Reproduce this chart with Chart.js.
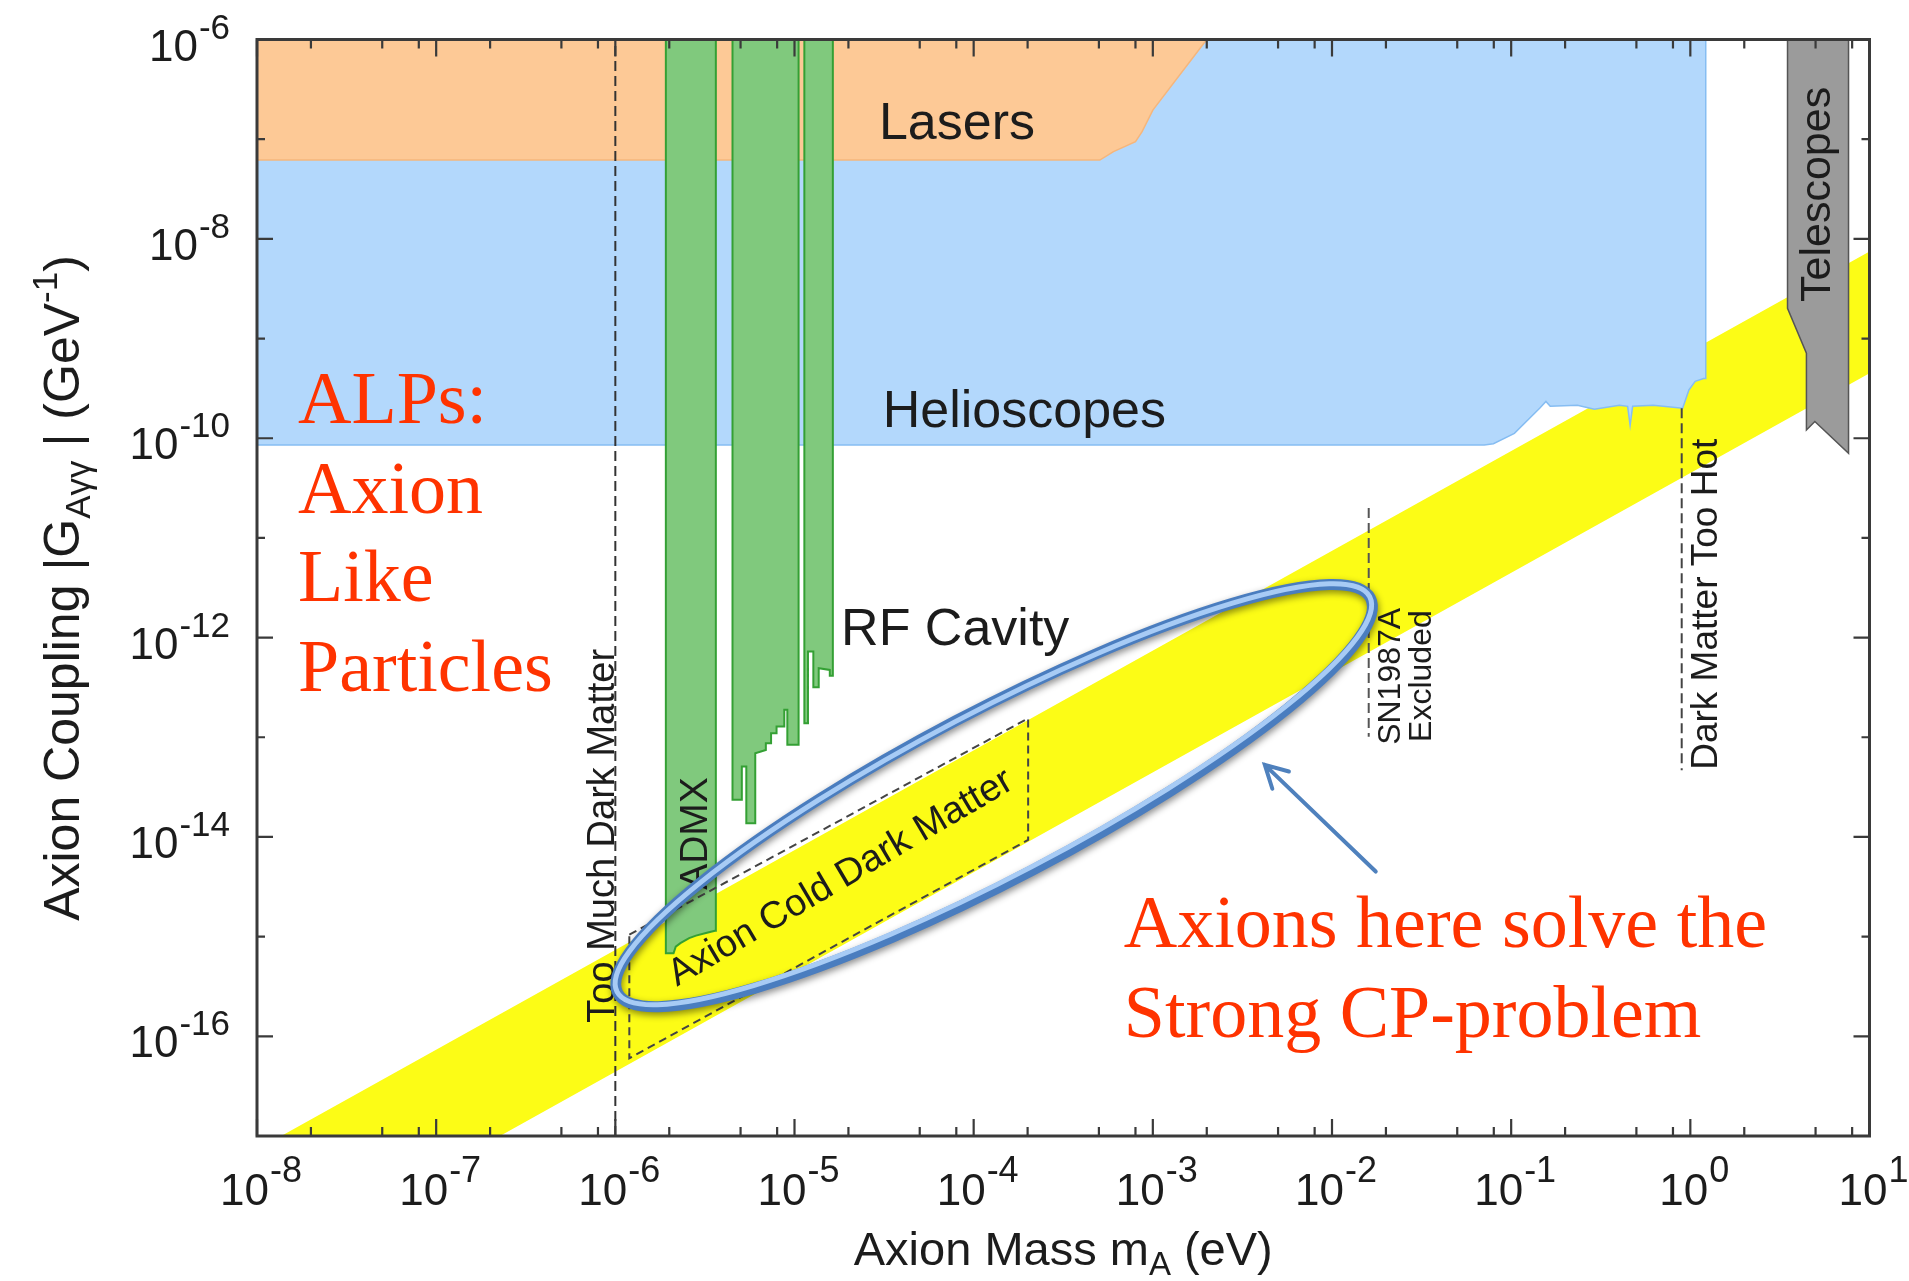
<!DOCTYPE html>
<html>
<head>
<meta charset="utf-8">
<script src="https://cdn.jsdelivr.net/npm/chart.js"></script>
<style>
html,body{margin:0;padding:0;background:#ffffff;overflow:hidden;}
#wrap{position:relative;width:1909px;height:1281px;}
canvas{display:block;}
</style>
</head>
<body>
<div id="wrap"><canvas id="chart" width="1909" height="1281"></canvas></div>
<script>
// ---------------- axes / ticks ----------------
const massMin = 1e-8, massMax = 10;
const couplingMin = 1e-17, couplingMax = 1e-6;
const massTickValues = [1e-8, 1e-7, 1e-6, 1e-5, 1e-4, 1e-3, 1e-2, 1e-1, 1, 10];
const massTickExponents = ['-8', '-7', '-6', '-5', '-4', '-3', '-2', '-1', '0', '1'];
const massMinorMultipliers = [2, 5, 8];
const couplingTickValues = [1e-6, 1e-8, 1e-10, 1e-12, 1e-14, 1e-16];
const couplingTickExponents = ['-6', '-8', '-10', '-12', '-14', '-16'];
const couplingMinorValues = [1e-7, 1e-9, 1e-11, 1e-13, 1e-15];

// ---------------- excluded regions (mass in eV, coupling in GeV^-1) ----------------
const helioscopesMass = [1e-8, 1e-8, 0.0708, 0.0796, 0.1042, 0.1442, 0.1563, 0.1652, 0.2344, 0.2911, 0.4018, 0.4467, 0.4613, 0.4764, 0.6209, 0.9057, 0.9817, 1.064, 1.186, 1.219, 1.219];
const helioscopesCoupling = [1e-6, 8.57e-11, 8.57e-11, 8.8e-11, 1.12e-10, 2.0e-10, 2.34e-10, 2.09e-10, 2.14e-10, 1.95e-10, 2.14e-10, 2.09e-10, 1.35e-10, 2.09e-10, 2.14e-10, 2.0e-10, 3.05e-10, 3.72e-10, 3.98e-10, 3.98e-10, 1e-6];

const lasersMass = [1e-8, 1e-8, 5.06e-4, 6.03e-4, 8.0e-4, 8.71e-4, 1.0e-3, 2.0e-3];
const lasersCoupling = [1e-6, 6.18e-8, 6.18e-8, 7.5e-8, 9.44e-8, 1.19e-7, 1.96e-7, 1e-6];

const admxMass = [1.914e-6, 1.914e-6, 2.113e-6, 2.173e-6, 2.307e-6, 2.582e-6, 2.818e-6, 3.243e-6, 3.597e-6, 3.639e-6, 3.639e-6];
const admxCoupling = [1e-6, 6.82e-16, 6.82e-16, 7.94e-16, 8.61e-16, 9.66e-16, 1.023e-15, 1.096e-15, 1.148e-15, 1.148e-15, 1e-6];

const cavity2Mass = [4.508e-6, 4.508e-6, 5.082e-6, 5.082e-6, 5.383e-6, 5.383e-6, 6.039e-6, 6.039e-6, 6.92e-6, 6.92e-6, 7.4e-6, 7.4e-6, 7.94e-6, 7.94e-6, 8.77e-6, 8.77e-6, 9.12e-6, 9.12e-6, 1.054e-5, 1.054e-5];
const cavity2Coupling = [1e-6, 2.355e-14, 2.355e-14, 5.08e-14, 5.08e-14, 1.374e-14, 1.374e-14, 6.92e-14, 7.46e-14, 8.7e-14, 8.7e-14, 1.096e-13, 1.096e-13, 1.28e-13, 1.28e-13, 1.884e-13, 1.884e-13, 8.39e-14, 8.39e-14, 1e-6];

const cavity3Mass = [1.135e-5, 1.135e-5, 1.189e-5, 1.189e-5, 1.274e-5, 1.274e-5, 1.365e-5, 1.365e-5, 1.574e-5, 1.574e-5, 1.637e-5, 1.637e-5];
const cavity3Coupling = [1e-6, 1.384e-13, 1.384e-13, 7.24e-13, 7.24e-13, 3.18e-13, 3.18e-13, 4.93e-13, 4.74e-13, 4.13e-13, 4.13e-13, 1e-6];

const telescopesMass = [3.487, 3.487, 4.446, 4.446, 4.955, 7.638, 7.638];
const telescopesCoupling = [1e-6, 2.01e-9, 7.13e-10, 1.21e-10, 1.47e-10, 7.08e-11, 1e-6];

// QCD axion band (upper edge then lower edge)
const axionBandMass = [1.365e-8, 10, 10, 2.27e-7];
const axionBandCoupling = [1e-17, 7.45e-9, 4.49e-10, 1e-17];

// Axion cold dark matter window (dashed box)
const cdmBoxMass = [1.197e-6, 2.014e-4, 2.014e-4, 1.197e-6, 1.197e-6];
const cdmBoxCoupling = [1.047e-15, 1.549e-13, 9.33e-15, 6.03e-17, 1.047e-15];

// dashed limit lines
const tooMuchDMMass = [1e-6, 1e-6];
const tooMuchDMCoupling = [1e-17, 1e-6];
const sn1987aMass = [0.01603, 0.01603];
const sn1987aCoupling = [2.0e-11, 1.01e-13];
const dmTooHotMass = [0.895, 0.895];
const dmTooHotCoupling = [2.0e-10, 4.68e-14];

// ---------------- annotations ----------------
const sansLabels = [
  {text: 'Lasers', x: 2.96e-5, y: 1.0e-7, size: 52, rot: 0},
  {text: 'Helioscopes', x: 3.11e-5, y: 1.30e-10, size: 52, rot: 0},
  {text: 'RF Cavity', x: 1.82e-5, y: 8.45e-13, size: 52, rot: 0},
  {text: 'Telescopes', x: 6.0, y: 2.33e-9, size: 43, rot: -90},
  {text: 'ADMX', x: 3.24e-6, y: 2.95e-15, size: 39, rot: -90},
  {text: 'Too Much Dark Matter', x: 9.82e-7, y: 1.37e-16, size: 38, rot: -90},
  {text: 'SN1987A', x: 0.0239, y: 8.39e-14, size: 32, rot: -90},
  {text: 'Excluded', x: 0.0356, y: 8.99e-14, size: 32, rot: -90},
  {text: 'Dark Matter Too Hot', x: 1.40, y: 4.72e-14, size: 37, rot: -90},
  {text: 'Axion Cold Dark Matter', x: 2.21e-6, y: 3.14e-16, size: 38, rot: -30.5}
];
const redLines = [
  {text: 'ALPs:', x: 1.694e-8, y: 1.422e-10},
  {text: 'Axion', x: 1.694e-8, y: 1.782e-11},
  {text: 'Like', x: 1.694e-8, y: 2.333e-12},
  {text: 'Particles', x: 1.694e-8, y: 2.917e-13},
  {text: 'Axions here solve the', x: 6.887e-4, y: 7.91e-16},
  {text: 'Strong CP-problem', x: 6.887e-4, y: 9.89e-17}
];
const ellipseCenter = {x: 1.30e-4, y: 2.60e-14};
const arrowTail = {x: 0.01754, y: 4.5e-15};
const arrowTip = {x: 4.217e-3, y: 5.28e-14};

const SANS = '"Liberation Sans", Arial, Helvetica, sans-serif';
const SERIF = '"Liberation Serif", "Times New Roman", Times, serif';
const INK = '#1c1c1c';

function pts(xs, ys) { return xs.map((v, i) => ({x: v, y: ys[i]})); }

function region(label, xs, ys, fillColor, lineColor, lineWidth, order) {
  return {label, data: pts(xs, ys), fill: 'shape', backgroundColor: fillColor,
    borderColor: lineColor, borderWidth: lineWidth, pointRadius: 0, pointHoverRadius: 0,
    tension: 0, order};
}
function dashed(label, xs, ys, dash, width, color, order) {
  return {label, data: pts(xs, ys), fill: false, borderColor: color, borderWidth: width,
    borderDash: dash, pointRadius: 0, pointHoverRadius: 0, tension: 0, order};
}

const datasets = [
  region('QCD axion band', axionBandMass, axionBandCoupling, '#fcfc16', 'rgba(0,0,0,0)', 0, 10),
  region('Helioscopes', helioscopesMass, helioscopesCoupling, '#b3d8fc', '#86bdf2', 1.5, 9),
  region('Lasers', lasersMass, lasersCoupling, '#fdc996', '#f5b67c', 1.5, 8),
  region('Telescopes', telescopesMass, telescopesCoupling, '#9b9b9b', '#555555', 1.5, 7),
  region('ADMX', admxMass, admxCoupling, '#80c97d', '#34a034', 2, 6),
  region('RF Cavity 2', cavity2Mass, cavity2Coupling, '#80c97d', '#34a034', 2, 6),
  region('RF Cavity 3', cavity3Mass, cavity3Coupling, '#80c97d', '#34a034', 2, 6),
  dashed('Too Much Dark Matter', tooMuchDMMass, tooMuchDMCoupling, [10, 5], 2, '#333333', 5),
  dashed('SN1987A', sn1987aMass, sn1987aCoupling, [10, 5], 2, '#555555', 5),
  dashed('Dark Matter Too Hot', dmTooHotMass, dmTooHotCoupling, [10, 5], 2, '#444444', 5),
  dashed('Axion CDM window', cdmBoxMass, cdmBoxCoupling, [8, 5], 2, '#444444', 4)
];

function drawSup(ctx, base, exp, x, baseY, supDy, baseSize, supSize, align) {
  ctx.font = baseSize + 'px ' + SANS;
  const wb = ctx.measureText(base).width;
  ctx.font = supSize + 'px ' + SANS;
  const ws = ctx.measureText(exp).width;
  const gap = 1;
  let start;
  if (align === 'center') start = x - (wb + gap + ws) / 2;
  else start = x - (wb + gap + ws);
  ctx.textAlign = 'left';
  ctx.textBaseline = 'alphabetic';
  ctx.font = baseSize + 'px ' + SANS;
  ctx.fillText(base, start, baseY);
  ctx.font = supSize + 'px ' + SANS;
  ctx.fillText(exp, start + wb + gap, baseY - supDy);
}

function drawRuns(ctx, runs, cx, cy, rot) {
  let total = 0;
  for (const r of runs) { ctx.font = r.size + 'px ' + SANS; r.w = ctx.measureText(r.t).width; total += r.w; }
  ctx.save();
  ctx.translate(cx, cy);
  ctx.rotate(rot);
  ctx.textAlign = 'left';
  ctx.textBaseline = 'alphabetic';
  let pos = -total / 2;
  for (const r of runs) {
    ctx.font = r.size + 'px ' + SANS;
    ctx.fillText(r.t, pos, r.dy);
    pos += r.w;
  }
  ctx.restore();
}

const frameAndTicks = {
  id: 'frameAndTicks',
  afterDatasetsDraw(chart) {
    const {ctx, chartArea: a} = chart;
    const xs = chart.scales.x, ys = chart.scales.y;
    ctx.save();
    ctx.strokeStyle = '#3a3a3a';
    ctx.lineWidth = 2.2;
    ctx.beginPath();
    massTickValues.forEach(v => {
      const X = xs.getPixelForValue(v);
      ctx.moveTo(X, a.bottom); ctx.lineTo(X, a.bottom - 17);
      ctx.moveTo(X, a.top); ctx.lineTo(X, a.top + 17);
    });
    massTickValues.slice(0, -1).forEach(d => massMinorMultipliers.forEach(m => {
      const X = xs.getPixelForValue(d * m);
      ctx.moveTo(X, a.bottom); ctx.lineTo(X, a.bottom - 9);
      ctx.moveTo(X, a.top); ctx.lineTo(X, a.top + 9);
    }));
    couplingTickValues.forEach(v => {
      const Y = ys.getPixelForValue(v);
      ctx.moveTo(a.left, Y); ctx.lineTo(a.left + 16, Y);
      ctx.moveTo(a.right, Y); ctx.lineTo(a.right - 16, Y);
    });
    couplingMinorValues.forEach(v => {
      const Y = ys.getPixelForValue(v);
      ctx.moveTo(a.left, Y); ctx.lineTo(a.left + 8, Y);
      ctx.moveTo(a.right, Y); ctx.lineTo(a.right - 8, Y);
    });
    ctx.stroke();
    ctx.lineWidth = 3;
    ctx.strokeRect(a.left, a.top, a.right - a.left, a.bottom - a.top);

    ctx.fillStyle = INK;
    massTickValues.forEach((v, i) => {
      const X = xs.getPixelForValue(v);
      drawSup(ctx, '10', massTickExponents[i], X + 4, a.bottom + 69, 23, 44, 36, 'center');
    });
    couplingTickValues.forEach((v, i) => {
      const Y = ys.getPixelForValue(v);
      drawSup(ctx, '10', couplingTickExponents[i], a.left - 27, Y + 21, 22, 44, 35, 'right');
    });

    drawRuns(ctx, [
      {t: 'Axion Mass m', size: 47, dy: 0},
      {t: 'A', size: 33, dy: 10},
      {t: ' (eV)', size: 47, dy: 0}
    ], (a.left + a.right) / 2, 1265, 0);
    drawRuns(ctx, [
      {t: 'Axion Coupling |G', size: 50, dy: 0},
      {t: 'Aγγ', size: 35, dy: 11},
      {t: ' | (GeV', size: 50, dy: 0},
      {t: '-1', size: 35, dy: -22},
      {t: ')', size: 50, dy: 0}
    ], 79, 588, -Math.PI / 2);
    ctx.restore();
  }
};

const annotations = {
  id: 'annotations',
  afterDatasetsDraw(chart) {
    const {ctx} = chart;
    const xs = chart.scales.x, ys = chart.scales.y;
    ctx.save();
    ctx.fillStyle = INK;
    ctx.textAlign = 'left';
    ctx.textBaseline = 'alphabetic';
    for (const l of sansLabels) {
      ctx.save();
      ctx.translate(xs.getPixelForValue(l.x), ys.getPixelForValue(l.y));
      ctx.rotate(l.rot * Math.PI / 180);
      ctx.font = l.size + 'px ' + SANS;
      ctx.fillText(l.text, 0, 0);
      ctx.restore();
    }

    // highlighted ellipse
    const cx = xs.getPixelForValue(ellipseCenter.x), cy = ys.getPixelForValue(ellipseCenter.y);
    ctx.save();
    ctx.translate(cx, cy);
    ctx.rotate(-27.7 * Math.PI / 180);
    ctx.beginPath();
    ctx.ellipse(0, 0, 425, 84, 0, 0, Math.PI * 2);
    ctx.shadowColor = 'rgba(0,0,0,0.45)';
    ctx.shadowBlur = 7;
    ctx.shadowOffsetX = 1;
    ctx.shadowOffsetY = 3;
    ctx.strokeStyle = '#4a7dbf';
    ctx.lineWidth = 11;
    ctx.stroke();
    ctx.shadowColor = 'rgba(0,0,0,0)';
    ctx.beginPath();
    ctx.ellipse(0, -1.5, 425, 82, 0, 0, Math.PI * 2);
    ctx.strokeStyle = '#a7cbf5';
    ctx.lineWidth = 5;
    ctx.stroke();
    ctx.restore();

    // arrow
    const tx = xs.getPixelForValue(arrowTail.x), ty = ys.getPixelForValue(arrowTail.y);
    const hx = xs.getPixelForValue(arrowTip.x), hy = ys.getPixelForValue(arrowTip.y);
    const ang = Math.atan2(hy - ty, hx - tx);
    ctx.strokeStyle = '#4f81bd';
    ctx.lineWidth = 4;
    ctx.lineCap = 'round';
    ctx.beginPath();
    ctx.moveTo(tx, ty); ctx.lineTo(hx, hy);
    ctx.moveTo(hx - 25 * Math.cos(ang - 0.5), hy - 25 * Math.sin(ang - 0.5));
    ctx.lineTo(hx, hy);
    ctx.lineTo(hx - 25 * Math.cos(ang + 0.5), hy - 25 * Math.sin(ang + 0.5));
    ctx.stroke();

    // red slide text
    ctx.fillStyle = '#ff3300';
    ctx.font = '74px ' + SERIF;
    ctx.textAlign = 'left';
    for (const r of redLines) {
      ctx.fillText(r.text, xs.getPixelForValue(r.x), ys.getPixelForValue(r.y));
    }
    ctx.restore();
  }
};

new Chart(document.getElementById('chart').getContext('2d'), {
  type: 'line',
  data: {datasets},
  options: {
    responsive: false,
    devicePixelRatio: 1,
    animation: false,
    events: [],
    layout: {padding: {top: 39.5, right: 39.5, bottom: 0, left: 0}},
    plugins: {legend: {display: false}, tooltip: {enabled: false}},
    scales: {
      x: {
        type: 'logarithmic', min: massMin, max: massMax,
        grid: {display: false}, border: {display: false},
        ticks: {display: false},
        afterBuildTicks: s => { s.ticks = massTickValues.map(v => ({value: v})); },
        afterFit: s => { s.height = 145; }
      },
      y: {
        type: 'logarithmic', min: couplingMin, max: couplingMax,
        grid: {display: false}, border: {display: false},
        ticks: {display: false},
        afterBuildTicks: s => { s.ticks = couplingTickValues.map(v => ({value: v})); },
        afterFit: s => { s.width = 257; }
      }
    }
  },
  plugins: [frameAndTicks, annotations]
});
</script>
</body>
</html>
